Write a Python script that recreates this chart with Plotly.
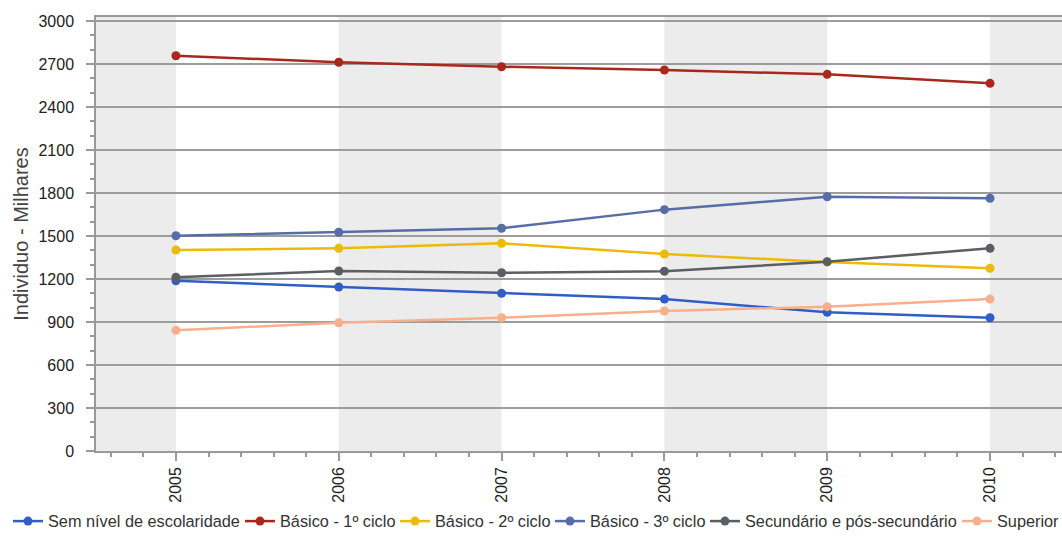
import plotly.graph_objects as go

# Population by education level (thousands of individuals)
years = [2005, 2006, 2007, 2008, 2009, 2010]

sem_nivel = [1188, 1144, 1100, 1060, 968, 930]
basico_1 = [2758, 2712, 2681, 2658, 2628, 2565]
basico_2 = [1402, 1414, 1449, 1374, 1319, 1275]
basico_3 = [1502, 1526, 1554, 1684, 1774, 1763]
secundario = [1212, 1256, 1244, 1254, 1321, 1414]
superior = [842, 895, 930, 977, 1007, 1060]

series_names = [
    "Sem nível de escolaridade",
    "Básico - 1º ciclo",
    "Básico - 2º ciclo",
    "Básico - 3º ciclo",
    "Secundário e pós-secundário",
    "Superior",
]
series_values = [sem_nivel, basico_1, basico_2, basico_3, secundario, superior]
series_colors = ["#2f5fc6", "#a8291c", "#ecbb0a", "#586ca8", "#5b5f64", "#f8b08c"]

y_ticks = [0, 300, 600, 900, 1200, 1500, 1800, 2100, 2400, 2700, 3000]

FONT = "Liberation Sans, Arial, sans-serif"
AXIS_GREY = "#999999"
W, H = 1062, 539

# left edge (px) of each legend entry's label along the bottom row
legend_text_x = [48, 280, 435, 590, 745, 997]

fig = go.Figure()
for i, (name, vals, col) in enumerate(zip(series_names, series_values, series_colors)):
    fig.add_trace(go.Scatter(
        x=years, y=vals, name=name, mode="lines+markers",
        line=dict(color=col, width=2.5),
        marker=dict(color=col, size=9),
        legend="legend" if i == 0 else f"legend{i + 1}",
    ))

# one single-entry legend per series so the row is spaced like the original
legends = {}
for i, tx in enumerate(legend_text_x):
    key = "legend" if i == 0 else f"legend{i + 1}"
    legends[key] = dict(
        orientation="h", xref="container", yref="container",
        x=(tx - 40) / W, xanchor="left", y=-8 / H, yanchor="bottom",
        font=dict(size=16.3, color="#333333"), itemwidth=30,
        bgcolor="rgba(0,0,0,0)",
    )

# alternating shaded year bands
half = 0.5
edges = [years[0] - half] + years + [years[-1] + half]
for i in range(0, len(edges) - 1, 2):
    fig.add_shape(type="rect", xref="x", yref="paper",
                  x0=edges[i], x1=edges[i + 1], y0=0, y1=1,
                  fillcolor="#ececec", line_width=0, layer="below")

fig.update_layout(
    width=W, height=H,
    margin=dict(l=96, r=0, t=17, b=88),
    paper_bgcolor="white", plot_bgcolor="white",
    font=dict(family=FONT, color="#333333"),
    showlegend=True,
    **legends,
)

fig.update_xaxes(
    range=[2004.509, 2010.442],
    tickmode="array", tickvals=years, ticktext=[str(y) for y in years],
    tickangle=-90, tickfont=dict(size=16, color="#222222"),
    showgrid=False, zeroline=False,
    showline=True, linecolor=AXIS_GREY, linewidth=1.5, mirror=True,
    ticks="outside", ticklen=8, tickcolor=AXIS_GREY, tickwidth=1.5,
    minor=dict(dtick=0.2, tick0=2005, ticks="outside", ticklen=4,
               tickcolor=AXIS_GREY, tickwidth=1.5, showgrid=False),
)

fig.update_yaxes(
    range=[0, 3028],
    tickmode="array", tickvals=y_ticks,
    tickfont=dict(size=16, color="#222222"),
    ticklabelstandoff=9,
    showgrid=True, gridcolor="#9c9c9c", gridwidth=1.5,
    zeroline=False,
    showline=True, linecolor=AXIS_GREY, linewidth=1.5,
    ticks="outside", ticklen=8, tickcolor=AXIS_GREY, tickwidth=1.5,
    minor=dict(dtick=100, tick0=0, ticks="outside", ticklen=4,
               tickcolor=AXIS_GREY, tickwidth=1.5, showgrid=False),
    title=dict(text="Individuo - Milhares", font=dict(size=20, color="#444444"), standoff=4),
)

fig.write_html("out.html")
